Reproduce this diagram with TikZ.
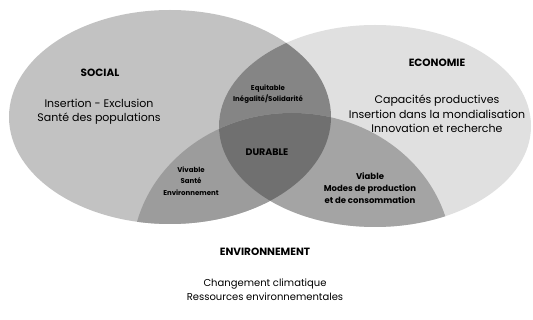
\documentclass[tikz,border=0pt]{standalone}
\usepackage{fontspec}
\setmainfont{Poppins}
\definecolor{socialc}{HTML}{C2C2C2}
\definecolor{ecoc}{HTML}{E0E0E0}
\definecolor{equic}{HTML}{858585}
\definecolor{vivc}{HTML}{9C9C9C}
\definecolor{viac}{HTML}{A4A4A4}
\definecolor{durc}{HTML}{707070}
\tikzset{
  lbl/.style={align=center, inner sep=0pt, text=black},
  head/.style={lbl, font=\fontsize{10.5}{12}\selectfont\bfseries},
  body/.style={lbl, font=\fontsize{11}{14.5}\selectfont},
  envbody/.style={lbl, font=\fontsize{10}{14}\selectfont},
  small/.style={lbl, font=\fontsize{7}{11.5}\selectfont\bfseries},
  mid/.style={lbl, font=\fontsize{8.5}{12}\selectfont\bfseries},
}
\def\socialpath{(170,117) ellipse [x radius=161, y radius=107]}
\def\ecopath{(375,126) ellipse [x radius=156, y radius=101]}
\def\envpath{(292,258) ellipse [x radius=160, y radius=145]}
\begin{document}
\begin{tikzpicture}[x=1pt,y=-1pt]
\useasboundingbox (0,0) rectangle (533,320);
\fill[white] (0,0) rectangle (533,320);
% base fills
\fill[socialc] \socialpath;
\fill[ecoc] \ecopath;
\begin{scope}
  \clip \socialpath;
  \fill[equic] \ecopath;
  \fill[vivc] \envpath;
\end{scope}
\begin{scope}
  \clip \ecopath;
  \fill[viac] \envpath;
\end{scope}
\begin{scope}
  \clip \socialpath;
  \clip \ecopath;
  \fill[durc] \envpath;
\end{scope}
% labels
\node[head] (social) at (100,73) {SOCIAL};
\node[body] (socialtxt) at (99,111.5) {Insertion - Exclusion\\Santé des populations};
\node[head] (eco) at (437,63) {ECONOMIE};
\node[body] (ecotxt) at (437,114) {Capacités productives\\Insertion dans la mondialisation\\Innovation et recherche};
\node[small] (equi) at (268,94) {Equitable\\Inégalité/Solidarité};
\node[head, font=\fontsize{9.5}{11}\selectfont\bfseries] (dur) at (267,152) {DURABLE};
\node[small] (viv) at (191,181) {Vivable\\Santé\\Environnement};
\node[mid] (via) at (370,188) {Viable\\Modes de production\\et de consommation};
\node[head] (env) at (265,252) {ENVIRONNEMENT};
\node[envbody] (envtxt) at (265,290) {Changement climatique\\Ressources environnementales};
\end{tikzpicture}
\end{document}
